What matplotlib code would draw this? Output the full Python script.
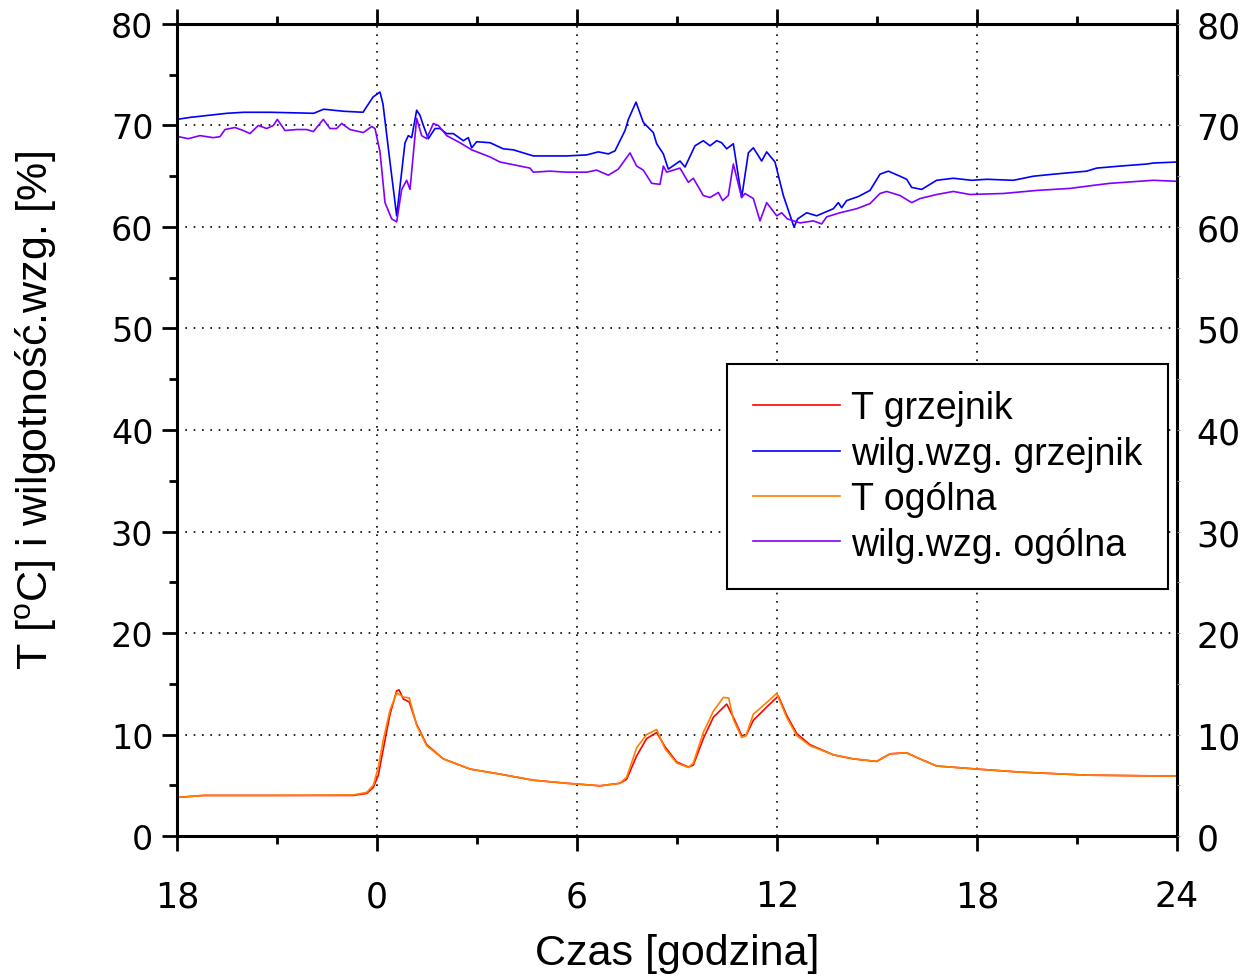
import matplotlib
matplotlib.use('Agg')
import matplotlib.pyplot as plt
from matplotlib.ticker import MultipleLocator

plt.rcParams['mathtext.fontset'] = 'custom'
plt.rcParams['mathtext.rm'] = 'Liberation Sans'

# hours from midnight of the measurement day (-6 = 18:00 previous day)
h_wilg_grz = [-6.0, -5.6, -4.5, -4.0, -3.2, -1.9, -1.6, -1.0, -0.42, -0.12, 0.09, 0.18, 0.39, 0.59,
              0.84, 0.94, 1.04, 1.19, 1.29, 1.39, 1.54, 1.74, 1.89, 2.09, 2.29, 2.59, 2.74, 2.84,
              2.99, 3.39, 3.79, 4.09, 4.69, 5.69, 6.29, 6.64, 6.94, 7.14, 7.44, 7.54, 7.77, 7.99,
              8.29, 8.39, 8.59, 8.74, 9.09, 9.24, 9.54, 9.79, 9.99, 10.19, 10.34, 10.49, 10.69,
              10.94, 11.14, 11.29, 11.54, 11.69, 11.94, 12.19, 12.51, 12.62, 12.89, 13.19, 13.69,
              13.84, 13.94, 14.09, 14.44, 14.79, 15.09, 15.34, 15.69, 15.89, 16.04, 16.34, 16.79,
              17.29, 17.84, 18.29, 19.09, 19.69, 20.29, 21.29, 21.59, 22.29, 23.09, 23.29, 24.0]
wilg_grz = [70.6, 70.8, 71.2, 71.3, 71.3, 71.2, 71.6, 71.4, 71.3, 72.8, 73.3, 72.1, 66.4, 61.1,
            68.3, 69.0, 68.8, 71.5, 71.0, 70.0, 68.7, 69.7, 69.7, 69.2, 69.2, 68.5, 68.8, 67.8,
            68.4, 68.3, 67.7, 67.6, 67.0, 67.0, 67.1, 67.4, 67.2, 67.5, 69.5, 70.6, 72.3, 70.3,
            69.3, 68.2, 67.2, 65.7, 66.5, 65.9, 68.0, 68.5, 68.0, 68.5, 68.3, 67.7, 68.2,
            62.9, 67.3, 67.8, 66.5, 67.4, 66.4, 63.1, 60.0, 60.8, 61.4, 61.1, 61.8,
            62.4, 61.9, 62.6, 63.0, 63.6, 65.2, 65.5, 65.0, 64.7, 63.9, 63.7, 64.6,
            64.8, 64.6, 64.7, 64.6, 65.0, 65.2, 65.5, 65.8, 66.0, 66.2, 66.3, 66.4]

h_wilg_og = [-5.96, -5.66, -5.31, -4.91, -4.71, -4.56, -4.26, -4.01, -3.81, -3.56, -3.31, -3.11,
             -2.99, -2.76, -2.41, -2.11, -1.91, -1.61, -1.41, -1.21, -1.06, -0.81, -0.41, -0.16,
             -0.06, 0.09, 0.24, 0.44, 0.59, 0.74, 0.89, 0.99, 1.19, 1.34, 1.49, 1.69, 1.84, 2.09,
             2.49, 2.84, 3.39, 3.69, 3.99, 4.59, 4.69, 5.19, 5.69, 6.29, 6.59, 6.94, 7.24, 7.59,
             7.79, 7.99, 8.24, 8.49, 8.59, 8.69, 9.09, 9.34, 9.49, 9.79, 9.99, 10.24, 10.37,
             10.54, 10.69, 10.94, 11.04, 11.29, 11.49, 11.69, 11.99, 12.14, 12.31, 12.69, 13.09,
             13.34, 13.49, 13.89, 14.39, 14.79, 15.09, 15.29, 15.69, 16.04, 16.29, 16.79, 17.29,
             17.79, 18.79, 19.79, 20.79, 21.49, 21.99, 23.29, 24.0]
wilg_og = [68.9, 68.7, 69.0, 68.8, 68.9, 69.6, 69.8, 69.5, 69.2, 70.0, 69.7, 70.0,
           70.6, 69.5, 69.6, 69.6, 69.4, 70.6, 69.7, 69.7, 70.2, 69.6, 69.3, 69.9,
           69.7, 67.4, 62.4, 60.8, 60.5, 63.7, 64.6, 63.7, 70.7, 69.0, 68.7, 70.2, 70.0, 69.0,
           68.3, 67.6, 66.9, 66.4, 66.2, 65.8, 65.4, 65.5, 65.4, 65.4, 65.6, 65.1, 65.7, 67.3,
           66.0, 65.6, 64.3, 64.2, 66.0, 65.4, 65.8, 64.4, 64.8, 63.1, 62.9, 63.4, 62.6,
           63.1, 66.2, 62.9, 63.3, 62.8, 60.6, 62.4, 61.1, 61.4, 60.8, 60.4, 60.6,
           60.3, 61.0, 61.4, 61.8, 62.3, 63.3, 63.5, 63.1, 62.4, 62.8, 63.2, 63.5,
           63.2, 63.3, 63.6, 63.8, 64.1, 64.3, 64.6, 64.5]

h_t_og = [-6.0, -5.2, -3.2, -0.71, -0.31, -0.11, 0.04, 0.19, 0.39, 0.59, 0.79, 0.97, 1.19, 1.49,
          1.99, 2.79, 3.69, 4.69, 5.69, 6.69, 7.29, 7.49, 7.79, 8.09, 8.39, 8.64, 8.99, 9.34,
          9.49, 9.79, 10.09, 10.39, 10.55, 10.69, 10.94, 11.07, 11.29, 11.69, 11.99, 12.29, 12.59,
          12.99, 13.69, 14.29, 14.99, 15.39, 15.89, 16.29, 16.79, 17.99, 19.29, 21.29, 24.0]
t_og = [3.8, 4.0, 4.0, 4.05, 4.3, 5.0, 6.8, 9.5, 12.4, 14.1, 13.7, 13.6, 10.9, 8.9,
        7.6, 6.6, 6.1, 5.5, 5.2, 4.95, 5.2, 5.8, 8.7, 10.0, 10.5, 8.6, 7.2, 6.75,
        7.2, 10.2, 12.3, 13.65, 13.6, 11.5, 9.7, 9.9, 12.0, 13.15, 14.05, 11.7, 9.9,
        8.9, 8.0, 7.6, 7.35, 8.1, 8.2, 7.6, 6.9, 6.6, 6.3, 6.0, 5.9]

h_t_grz = [-6.0, -5.2, -3.2, -0.71, -0.31, -0.11, 0.04, 0.19, 0.39, 0.59, 0.66, 0.79, 0.97, 1.19,
           1.49, 1.99, 2.79, 3.69, 4.69, 5.69, 6.69, 7.29, 7.49, 7.79, 8.09, 8.39, 8.64, 8.99,
           9.34, 9.49, 9.79, 10.09, 10.49, 10.69, 10.94, 11.07, 11.29, 11.69, 12.04, 12.29, 12.59,
           12.99, 13.69, 14.29, 14.99, 15.39, 15.89, 16.29, 16.79, 17.99, 19.29, 21.29, 24.0]
t_grz = [3.8, 4.0, 4.0, 4.0, 4.2, 4.8, 6.0, 8.6, 12.0, 14.3, 14.4, 13.5, 13.2, 11.0,
         9.0, 7.6, 6.6, 6.1, 5.5, 5.2, 4.95, 5.2, 5.6, 7.9, 9.6, 10.2, 8.8, 7.3,
         6.8, 7.0, 9.6, 11.7, 13.0, 11.7, 9.9, 9.9, 11.4, 12.7, 13.8, 11.9, 10.1,
         9.0, 8.0, 7.6, 7.35, 8.1, 8.2, 7.6, 6.9, 6.6, 6.3, 6.0, 5.9]

x_ticks = [-6, 0, 6, 12, 18, 24]
x_labels = ['18', '0', '6', '12', '18', '24']

fig = plt.figure(figsize=(12.5, 9.79), dpi=100)
ax = fig.add_axes([0.1416, 0.1450, 0.8, 0.8295])

ax.plot(h_t_grz, t_grz, color='#ff0000', lw=1.2, label='T grzejnik')
ax.plot(h_wilg_grz, wilg_grz, color='#0000ff', lw=1.2, label='wilg.wzg. grzejnik')
ax.plot(h_t_og, t_og, color='#ff8000', lw=1.2, label='T ogólna')
ax.plot(h_wilg_og, wilg_og, color='#8000ff', lw=1.2, label='wilg.wzg. ogólna')

ax.set_xlim(-6, 24)
ax.set_ylim(0, 80)
ax.set_xticks(x_ticks)
ax.set_xticklabels(x_labels)
ax.xaxis.set_minor_locator(MultipleLocator(3))
ax.yaxis.set_major_locator(MultipleLocator(10))
ax.yaxis.set_minor_locator(MultipleLocator(5))

ax.grid(True, which='major', color='black', linestyle=(0, (1, 4)), linewidth=1.2)

for s in ax.spines.values():
    s.set_linewidth(2.2)

ax.tick_params(axis='x', which='major', direction='out', length=11, width=2,
               top=True, bottom=True, labelsize=25, pad=20)
ax.tick_params(axis='x', which='minor', direction='out', length=6, width=2, top=True, bottom=True)
ax.tick_params(axis='y', which='major', direction='out', length=11, width=2,
               left=True, right=False, labelsize=24, pad=6)
ax.tick_params(axis='y', which='minor', direction='out', length=6, width=2, left=True, right=False)

# right axis: same scale, short faint ticks
ax2 = ax.twinx()
ax2.set_ylim(ax.get_ylim())
ax2.yaxis.set_major_locator(MultipleLocator(10))
ax2.yaxis.set_minor_locator(MultipleLocator(5))
ax2.tick_params(axis='y', which='both', direction='out', length=2, width=0.8, color='#999999',
                labelsize=25, pad=12)
ax2.tick_params(axis='x', which='both', top=False, bottom=False, labeltop=False, labelbottom=False)
for s in ax2.spines.values():
    s.set_visible(False)

ax.set_xlabel('Czas [godzina]', fontsize=31, family='Liberation Sans', labelpad=14)
ax.set_ylabel(r'T [$^{\mathrm{o}}$C] i wilgotność.wzg. [%]', fontsize=31,
              family='Liberation Sans')
ax.yaxis.set_label_coords(-0.118, 0.525)

leg = ax.legend(loc='upper left', bbox_to_anchor=(0.55, 0.581), borderaxespad=0,
                prop={'family': 'Liberation Sans', 'size': 27}, fancybox=False,
                edgecolor='black', framealpha=1, handlelength=2.3, handletextpad=0.3,
                labelspacing=0.25, borderpad=0.7)
leg.get_frame().set_linewidth(1.5)
leg.set_zorder(5)

fig.savefig('out.png', dpi=100)
